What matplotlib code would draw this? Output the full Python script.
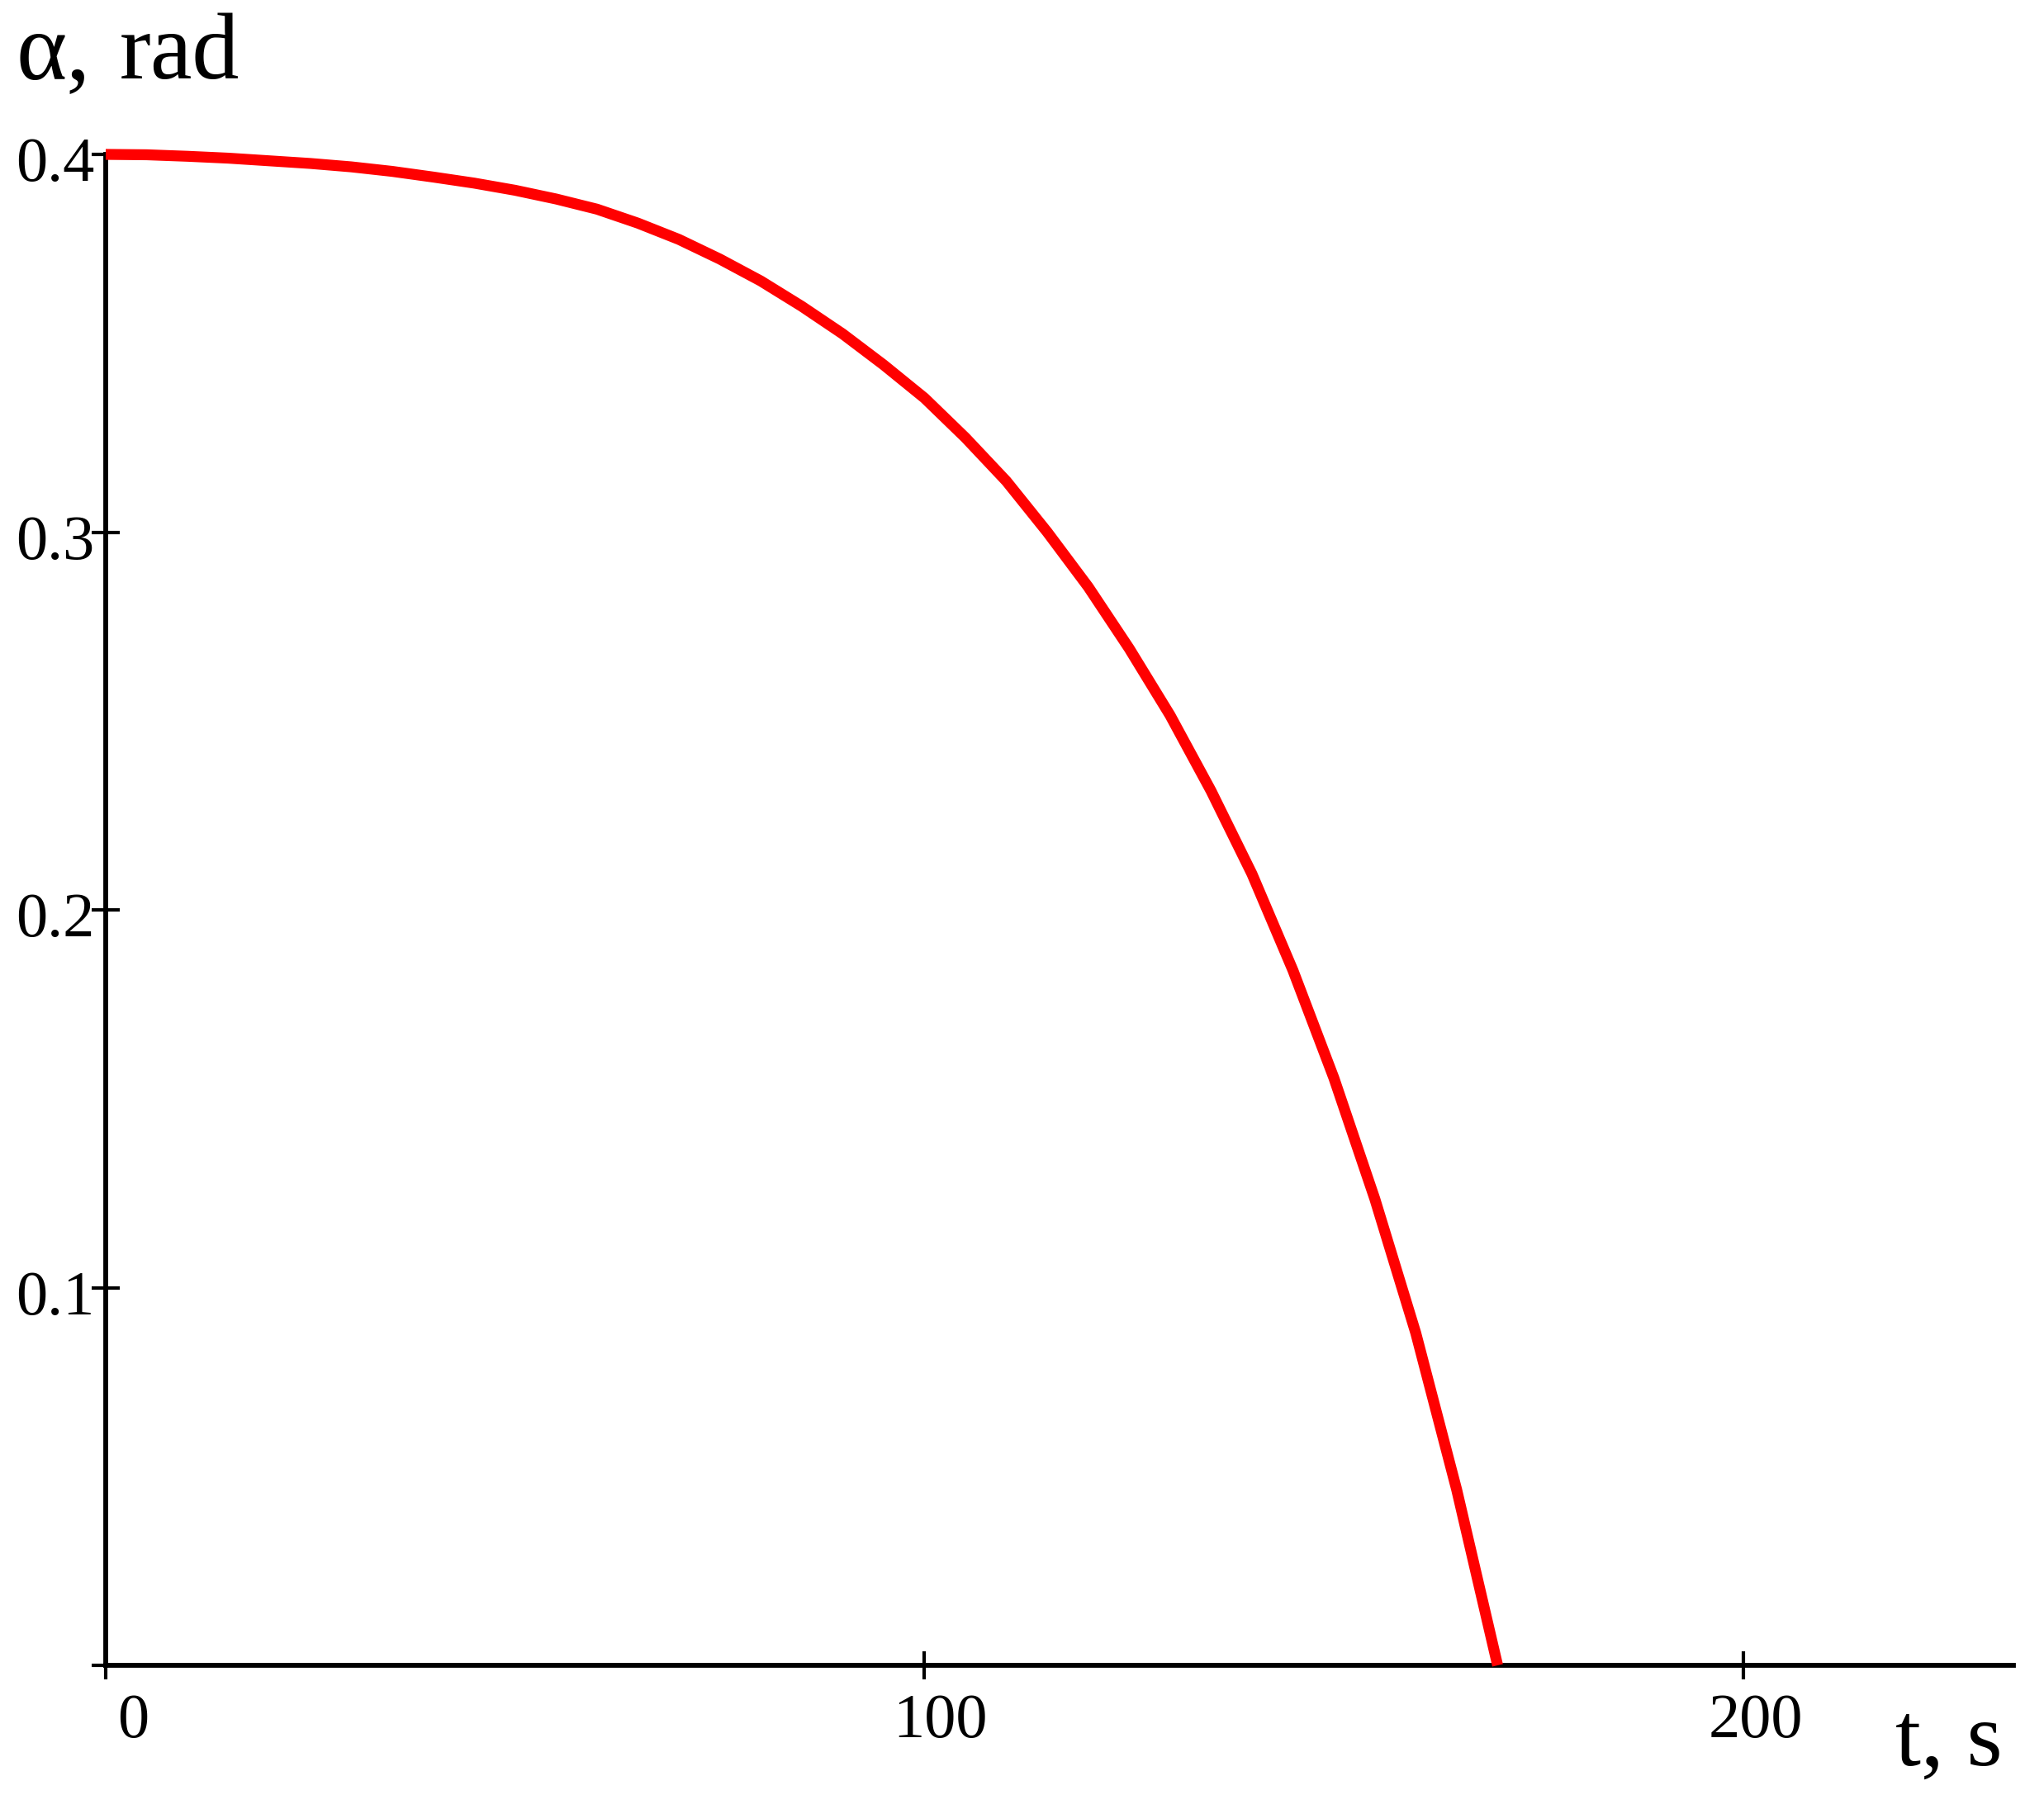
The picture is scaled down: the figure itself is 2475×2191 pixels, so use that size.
"""Angle of inclination vs time"""
import matplotlib.pyplot as plt
import matplotlib.transforms as mtransforms

plt.rcParams["font.family"] = ["Liberation Serif", "DejaVu Serif"]

# values
t_s = [0, 5, 10, 15, 20, 25, 30, 35, 40, 45, 50, 55, 60, 65, 70, 75, 80, 85, 90, 95,
       100, 105, 110, 115, 120, 125, 130, 135, 140, 145, 150, 155, 160, 165, 170]
alpha_rad = [0.4000, 0.3999, 0.3995, 0.3990, 0.3983, 0.3976, 0.3967, 0.3955, 0.3940, 0.3924,
             0.3905, 0.3882, 0.3855, 0.3818, 0.3775, 0.3723, 0.3665, 0.3598, 0.3525, 0.3443,
             0.3355, 0.3250, 0.3135, 0.3000, 0.2855, 0.2692, 0.2515, 0.2315, 0.2095, 0.1840,
             0.1555, 0.1235, 0.0880, 0.0465, 0.0]

x_ticks = [0, 100, 200]
x_tick_labels = ["0", "100", "200"]
y_ticks = [0, 0.1, 0.2, 0.3, 0.4]
y_tick_labels = ["", "0.1", "0.2", "0.3", "0.4"]

W, H, DPI = 2475, 2191, 100
fig = plt.figure(figsize=(W / DPI, H / DPI), dpi=DPI)
ax = fig.add_axes([128 / W, 1 - 2017 / H, (2438 - 128) / W, (2017 - 187) / H])

ax.plot(t_s, alpha_rad, color="#ff0000", linewidth=9.5, solid_capstyle="butt",
        solid_joinstyle="round", clip_on=False, zorder=5)

ax.set_xlim(0, 233)
ax.set_ylim(0, 0.4)
for side in ("top", "right"):
    ax.spines[side].set_visible(False)
for side in ("left", "bottom"):
    ax.spines[side].set_linewidth(4.2)

ax.set_xticks(x_ticks)
ax.set_xticklabels(x_tick_labels)
ax.set_yticks(y_ticks)
ax.set_yticklabels(y_tick_labels)
ax.tick_params(axis="both", direction="inout", length=25, width=3, labelsize=55, colors="black")
ax.tick_params(axis="x", pad=12)
ax.tick_params(axis="y", pad=-3)

# labels in the reference sit a bit right of the x ticks and below the y ticks
x_shift = [24, 14, 11]
for lab, dx in zip(ax.get_xticklabels(), x_shift):
    lab.set_transform(lab.get_transform() + mtransforms.ScaledTranslation(dx / 72, 0, fig.dpi_scale_trans))
for lab in ax.get_yticklabels():
    lab.set_transform(lab.get_transform() + mtransforms.ScaledTranslation(0, -4 / 72, fig.dpi_scale_trans))

# axis titles
fig.text(19 / W, 1 - 95 / H, "α,", fontsize=84, ha="left", va="baseline")
fig.text(145 / W, 1 - 95 / H, "rad", fontsize=82, ha="left", va="baseline")
fig.text(2295 / W, 1 - 2138 / H, "t, s", fontsize=80, ha="left", va="baseline")

fig.savefig("out.png", dpi=DPI)
plt.close(fig)
